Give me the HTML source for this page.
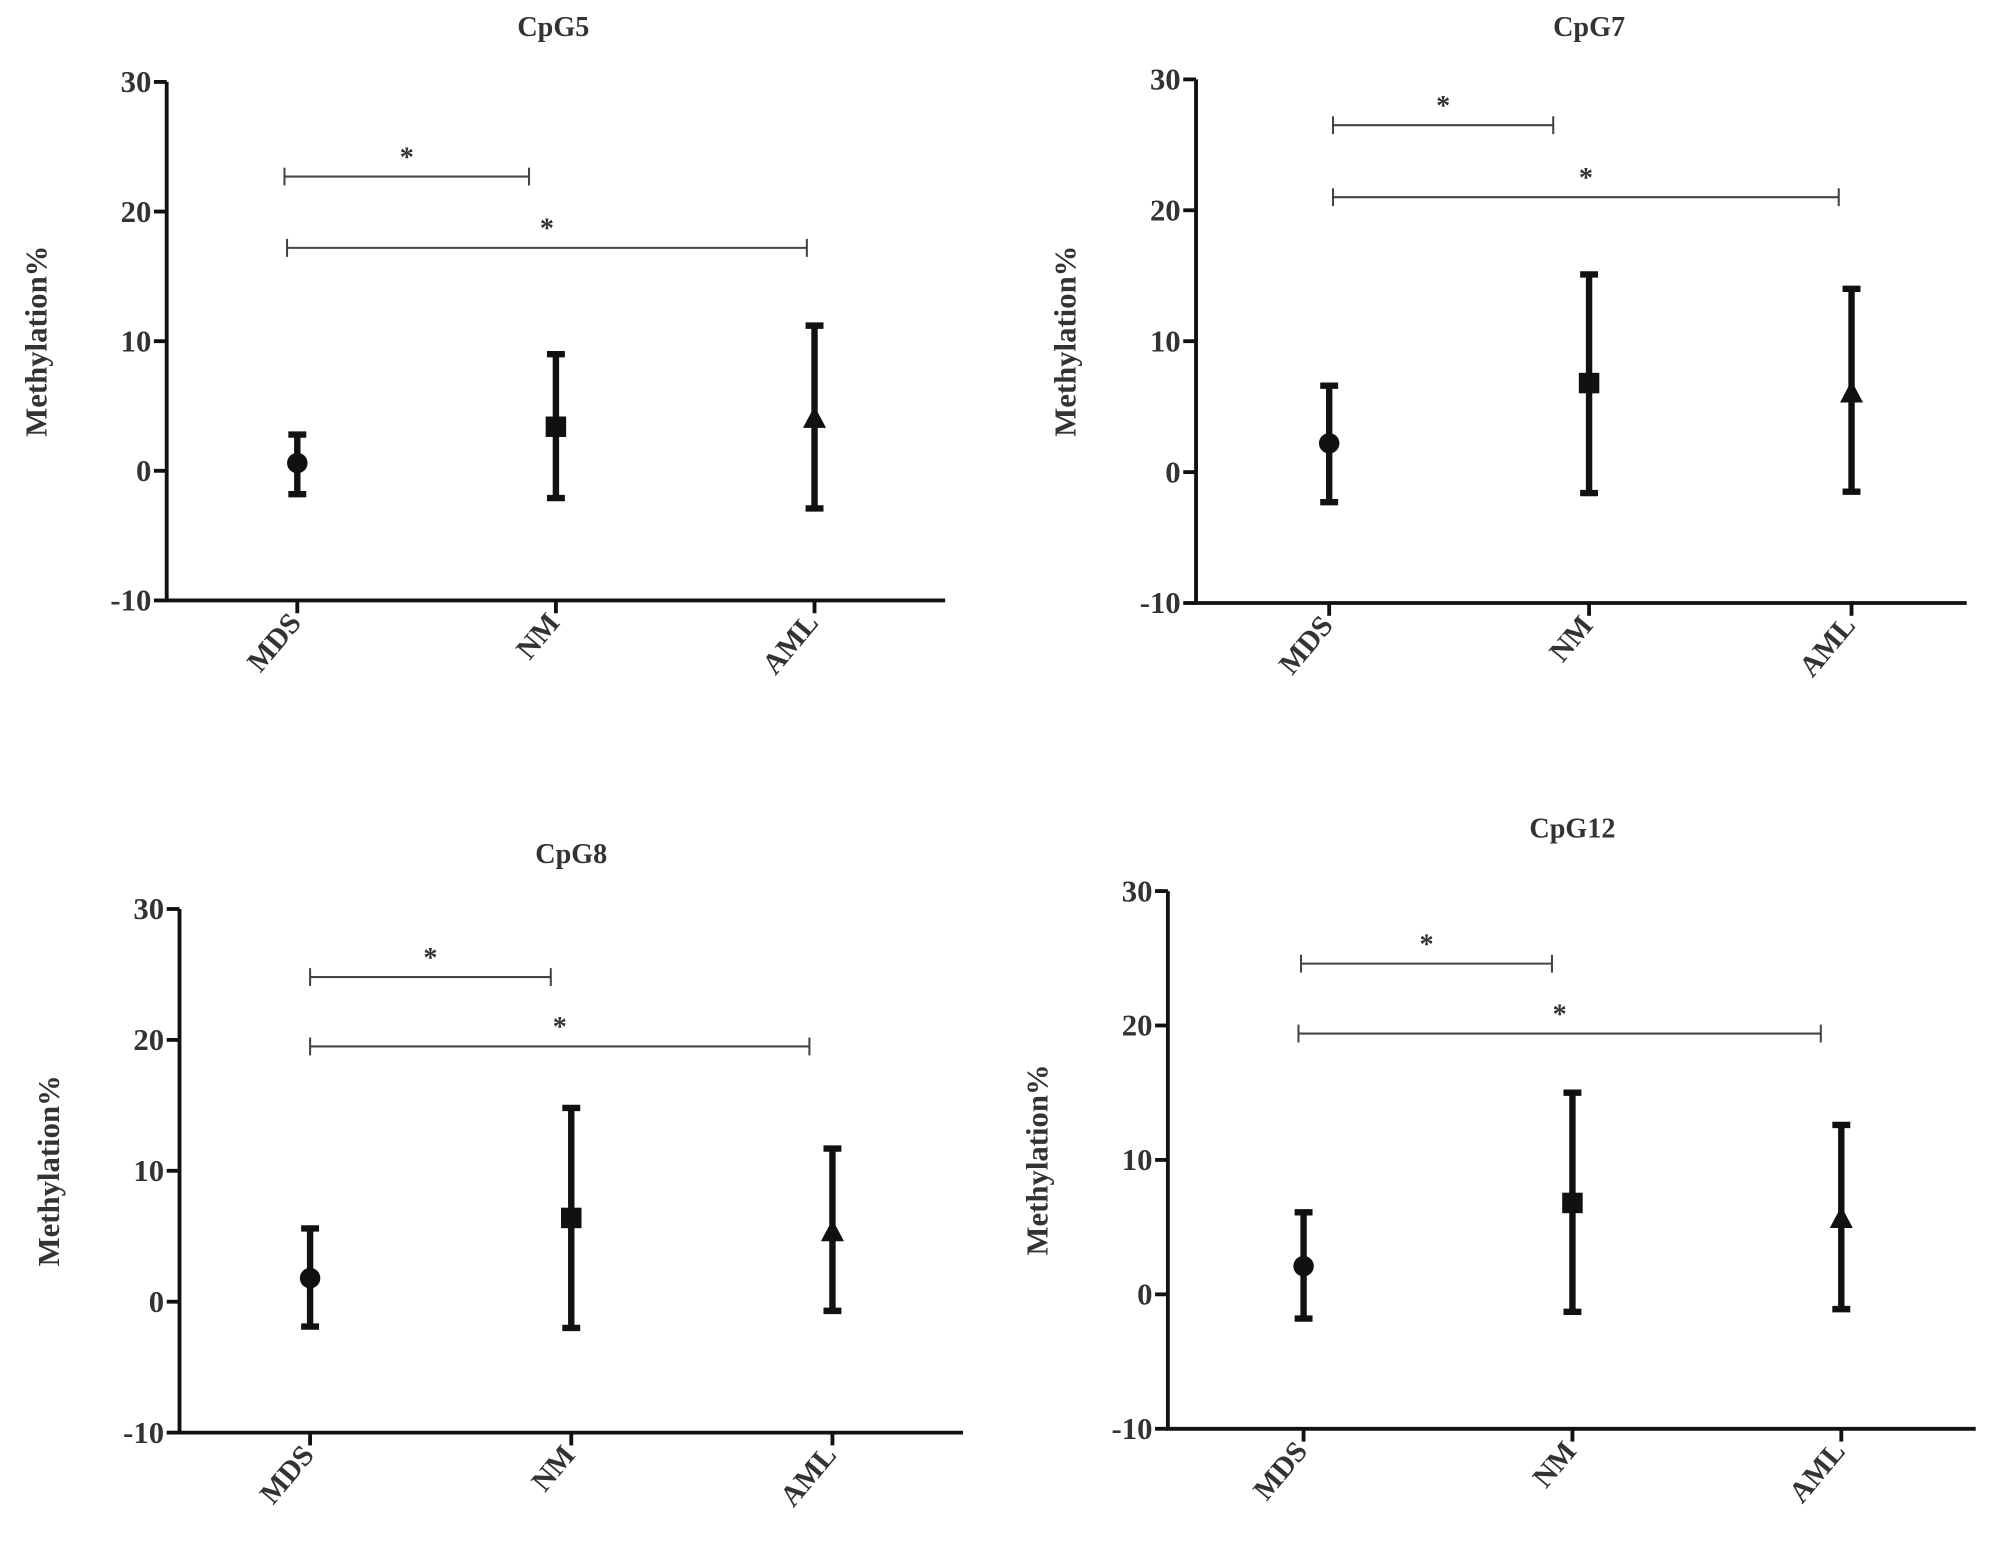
<!DOCTYPE html>
<html><head><meta charset="utf-8"><style>
html,body{margin:0;padding:0;background:#fff}
svg{display:block}
text{font-family:"Liberation Serif",serif;font-weight:bold;fill:#333}
</style></head><body>
<svg id="fig" width="2008" height="1544" viewBox="0 0 1568 1206" xmlns="http://www.w3.org/2000/svg"></svg>
<script>
const categories = ["MDS","NM","AML"];
const yTicks = [30,20,10,0,-10];
const titles = ["CpG5","CpG7","CpG8","CpG12"];
const meansCpG5 = [0.6,3.4,4.0];
const lowsCpG5 = [-1.8,-2.1,-2.9];
const highsCpG5 = [2.8,9.0,11.2];
const meansCpG7 = [2.2,6.8,6.0];
const lowsCpG7 = [-2.3,-1.6,-1.5];
const highsCpG7 = [6.6,15.1,14.0];
const meansCpG8 = [1.8,6.4,5.3];
const lowsCpG8 = [-1.9,-2.0,-0.7];
const highsCpG8 = [5.6,14.8,11.7];
const meansCpG12 = [2.1,6.8,5.6];
const lowsCpG12 = [-1.8,-1.3,-1.1];
const highsCpG12 = [6.1,15.0,12.6];
const bracketLevelsCpG5 = [22.7,17.2];
const bracketLevelsCpG7 = [26.5,21.0];
const bracketLevelsCpG8 = [24.8,19.5];
const bracketLevelsCpG12 = [24.6,19.4];

const NS="http://www.w3.org/2000/svg";
const svg=document.getElementById('fig');
function mk(tag,attrs,parent){const e=document.createElementNS(NS,tag);for(const k in attrs)e.setAttribute(k,attrs[k]);(parent||svg).appendChild(e);return e;}

const panels=[
 {ax:130,top:64,bot:469,right:738,cx:[232,434,636],tx:432,ty:28,b:[[222,413],[224,630]],means:meansCpG5,lows:lowsCpG5,highs:highsCpG5,bl:bracketLevelsCpG5},
 {ax:934,top:62,bot:471,right:1536,cx:[1038,1241,1446],tx:1241,ty:28,b:[[1041,1213],[1041,1436]],means:meansCpG7,lows:lowsCpG7,highs:highsCpG7,bl:bracketLevelsCpG7},
 {ax:140,top:710,bot:1119,right:752,cx:[242,446,650],tx:446,ty:674,b:[[242,430],[242,632]],means:meansCpG8,lows:lowsCpG8,highs:highsCpG8,bl:bracketLevelsCpG8},
 {ax:912,top:696,bot:1116,right:1543,cx:[1018,1228,1438],tx:1228,ty:654,b:[[1016,1212],[1014,1422]],means:meansCpG12,lows:lowsCpG12,highs:highsCpG12,bl:bracketLevelsCpG12}
];

panels.forEach((p,pi)=>{
 const g=mk('g',{});
 
 
 const y=v=>p.bot-(v-(-10))/40*(p.bot-p.top);
 const t=mk('text',{x:p.tx,y:p.ty,'text-anchor':'middle','font-size':22},g);
 t.textContent=titles[pi];
 
 
 const yl=mk('text',{x:0,y:0,'text-anchor':'middle','font-size':24,transform:`translate(${p.ax-94},${(p.top+p.bot)/2}) rotate(-90)`},g);
 yl.textContent='Methylation%';
 
 
 const axes=mk('path',{d:`M${p.ax},${p.top}V${p.bot}H${p.right}`,stroke:'#111','stroke-width':3,fill:'none'},g);
 
 
 yTicks.forEach(v=>{
  mk('line',{x1:p.ax-10,x2:p.ax,y1:y(v),y2:y(v),stroke:'#111','stroke-width':3},g);
  const tl=mk('text',{x:p.ax-12,y:y(v)+8,'text-anchor':'end','font-size':24},g);
  tl.textContent=v;
  
  
 });
 categories.forEach((c,i)=>{
  const x=p.cx[i];
  mk('line',{x1:x,x2:x,y1:p.bot,y2:p.bot+10,stroke:'#111','stroke-width':3},g);
  const cl=mk('text',{x:0,y:0,'text-anchor':'end','font-size':23,transform:`translate(${x+4},${p.bot+18}) rotate(-50)`},g);
  cl.textContent=c;
  
  
  const eb=mk('path',{d:`M${x},${y(p.lows[i])}V${y(p.highs[i])}M${x-7},${y(p.highs[i])}H${x+7}M${x-7},${y(p.lows[i])}H${x+7}`,stroke:'#111','stroke-width':5,fill:'none'},g);
  
  
  const my=y(p.means[i]);
  let m;
  if(i===0) m=mk('circle',{cx:x,cy:my,r:8,fill:'#111'},g);
  else if(i===1) m=mk('rect',{x:x-8,y:my-8,width:16,height:16,fill:'#111'},g);
  else m=mk('path',{d:`M${x},${my-10}L${x+9},${my+7}L${x-9},${my+7}Z`,fill:'#111'},g);
  
  
 });
 p.b.forEach((b,bi)=>{
  const by=y(p.bl[bi]);
  const br=mk('path',{d:`M${b[0]},${by-7}V${by+7}M${b[0]},${by}H${b[1]}M${b[1]},${by-7}V${by+7}`,stroke:'#444','stroke-width':1.6,fill:'none'},g);
  
  
  const st=mk('text',{x:(b[0]+b[1])/2,y:by-8,'text-anchor':'middle','font-size':22},g);
  st.textContent='*';
  
  
 });
});
</script>
</body></html>
